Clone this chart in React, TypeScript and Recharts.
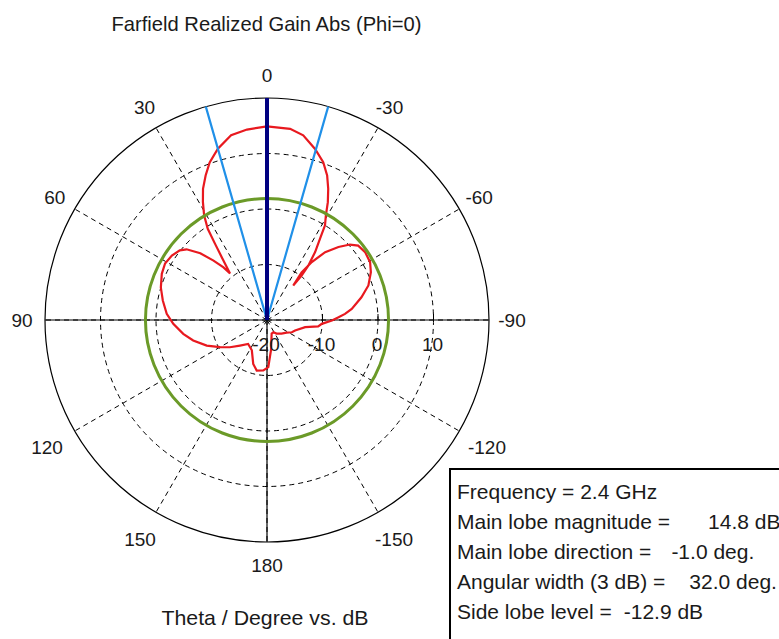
import { PolarAngleAxis, PolarGrid, PolarRadiusAxis, Radar, RadarChart } from "recharts";

const FONT = '"Liberation Sans", Arial, sans-serif';

// theta: degrees, 0 = up, positive = counter-clockwise (CST convention)
const PATTERN_THETA = [
  0, 6, 11, 16, 20, 23, 26, 28.5, 31, 33, 34.3, 35.8, 38.5,
  39.6, 42, 45, 48.7, 51.4, 55.9, 61, 66.3, 73, 79.4, 86.5, 92.3, 99.4, 105.5, 113, 120,
  126.3, 133.4, 141.8, 153.4, 162.6, 168.5, 175.8, -178.4, -172.5, -161.2, -152.7, -144.9,
  -133.2, -123, -116.3, -110.6, -100.7, -97.2, -94, -90.4, -87.8, -85.5, -82.5, -76.5,
  -71.2, -65.3, -60.7, -55.3, -50.8, -47.7, -44.4, -40.6, -37.7, -36, -37.3,
  -37.9, -37.2, -35.3, -33.1, -31.5, -29.4, -27.3, -25, -22.6, -19.6, -15.7, -11.1, -6.9,
];
// realized gain, dB
const PATTERN_GAIN = [
  14.9, 14.5, 13.9, 12.1, 10.2, 8.3, 6.3, 4.2, 2.0, -0.4, -3.4, -6.1, -9.3,
  -7.7, -5.6, -3.0, -0.7, 0.1, 0.7, 1.0, 0.7, 0.0, -0.9, -1.9, -3.1, -4.7, -6.2, -8.2, -10.2,
  -11.7, -13.3, -14.5, -13.9, -11.7, -10.7, -10.9, -11.5, -14.5, -17.4, -17.5, -17.0,
  -16.4, -15.8, -15.0, -14.6, -13.0, -10.7, -10.1, -8.3, -7.1, -5.9, -4.6, -2.5,
  -0.7, 0.6, 1.3, 1.5, 1.2, 0.2, -1.6, -3.9, -6.8, -9.4, -12.2,
  -9.8, -7.7, -5.0, -2.5, 0.0, 1.6, 3.9, 6.1, 8.2, 10.2, 12.0, 13.9, 14.7,
];

const MAIN_LOBE_THETA = 0;
const MAIN_LOBE_SPLIT_DB = 0.5; // thick marker stops here
const BEAM_EDGES = [16, -16]; // 3 dB angular width limits
const SIDE_LOBE_CIRCLE_DB = 1.9;

const ANGLE_TICKS = [0, 30, 60, 90, 120, 150, 180, -150, -120, -90, -60, -30];
const RADIUS_TICKS = [-20, -10, 0, 10];
const RADIUS_DOMAIN = [-20, 20];
const ANGLE_DOMAIN = [-180, 180];

const INFO_LABELS = [
  "Frequency = 2.4 GHz",
  "Main lobe magnitude =",
  "Main lobe direction =",
  "Angular width (3 dB) =",
  "Side lobe level =",
];
const INFO_VALUES = ["", "14.8 dB", "-1.0 deg.", "32.0 deg.", "-12.9 dB"];
const INFO_GAP = [0, 38, 20, 24, 12];

const W = 779;
const H = 639;
const CX = 267;
const CY = 320;
const OUTER_R = 222;

const patternRows = PATTERN_THETA.map((theta, i) => ({ theta, gain: PATTERN_GAIN[i] }));

const markerRows: Record<string, number>[] = [
  { theta: MAIN_LOBE_THETA, dirThick: RADIUS_DOMAIN[1] },
  { theta: MAIN_LOBE_THETA, dirThick: MAIN_LOBE_SPLIT_DB },
  { theta: MAIN_LOBE_THETA, dirThin: MAIN_LOBE_SPLIT_DB },
  { theta: MAIN_LOBE_THETA, dirThin: RADIUS_DOMAIN[0] },
  { theta: BEAM_EDGES[0], beamA: RADIUS_DOMAIN[1] },
  { theta: BEAM_EDGES[0], beamA: RADIUS_DOMAIN[0] },
  { theta: BEAM_EDGES[1], beamB: RADIUS_DOMAIN[1] },
  { theta: BEAM_EDGES[1], beamB: RADIUS_DOMAIN[0] },
];

const chartProps = {
  width: W,
  height: H,
  cx: CX,
  cy: CY,
  outerRadius: OUTER_R,
  startAngle: -90,
  endAngle: 270,
  margin: { top: 0, right: 0, bottom: 0, left: 0 },
};

function AngleTick(props: any) {
  const { x, y, payload } = props;
  const v = payload.value;
  if (v === -180) return <g />;
  // lower diagonal labels sit a bit further out in the original
  const extra = Math.abs(v) > 90 && Math.abs(v) < 180 ? 9 : 0;
  const rad = (payload.coordinate * Math.PI) / 180;
  return (
    <text
      x={x + extra * Math.cos(rad)}
      y={y - extra * Math.sin(rad)}
      textAnchor="middle"
      dominantBaseline="central"
      fontSize={19}
      fontFamily={FONT}
      fill="#1a1a1a"
    >
      {v}
    </text>
  );
}

function RadiusTick(props: any) {
  const { x, y, payload } = props;
  if (payload.value >= RADIUS_DOMAIN[1]) return <g />;
  return (
    <g>
      {payload.value > RADIUS_DOMAIN[0] && (
        <line x1={x} y1={y - 6} x2={x} y2={y} stroke="#000" strokeWidth={1} />
      )}
      <text x={x - 1} y={y + 24} textAnchor="middle" dominantBaseline="central" fontSize={19} fontFamily={FONT} fill="#1a1a1a">
        {payload.value}
      </text>
    </g>
  );
}

export default function App() {
  return (
    <div style={{ position: "absolute", left: 0, top: 0, width: W, height: H, background: "#fff", overflow: "hidden" }}>
      <div style={{ position: "absolute", left: 0, top: 0 }}>
        <RadarChart {...chartProps} data={patternRows}>
          <PolarGrid gridType="circle" stroke="#000" strokeWidth={1} strokeDasharray="5 4" />
          <PolarGrid gridType="circle" polarAngles={[0, 90, 180, 270]} polarRadius={[OUTER_R]} stroke="#000" strokeWidth={1.2} />
          <PolarAngleAxis
            dataKey="theta"
            type="number"
            domain={ANGLE_DOMAIN}
            ticks={ANGLE_TICKS}
            tickLine={false}
            tickSize={23}
            axisLine={false}
            tick={(p: any) => <AngleTick {...p} />}
          />
          <PolarRadiusAxis
            angle={0}
            type="number"
            domain={RADIUS_DOMAIN}
            ticks={RADIUS_TICKS}
            axisLine={false}
            tick={(p: any) => <RadiusTick {...p} />}
          />
          <Radar dataKey="gain" stroke="#e8191f" strokeWidth={2.2} fill="none" dot={false} isAnimationActive={false} />
        </RadarChart>
      </div>
      {/* overlay: side lobe level circle and main lobe / 3 dB markers */}
      <div style={{ position: "absolute", left: 0, top: 0 }}>
        <RadarChart {...chartProps} data={markerRows}>
          <PolarAngleAxis dataKey="theta" type="number" domain={ANGLE_DOMAIN} tick={false} tickLine={false} axisLine={false} />
          <PolarRadiusAxis angle={0} type="number" domain={RADIUS_DOMAIN} ticks={[SIDE_LOBE_CIRCLE_DB]} tick={false} axisLine={false} />
          <PolarGrid gridType="circle" radialLines={false} stroke="#6b9a28" strokeWidth={3} />
          <Radar dataKey="beamA" stroke="#2090e8" strokeWidth={2.2} fill="none" dot={false} isAnimationActive={false} />
          <Radar dataKey="beamB" stroke="#2090e8" strokeWidth={2.2} fill="none" dot={false} isAnimationActive={false} />
          <Radar dataKey="dirThin" stroke="#1212e0" strokeWidth={2} fill="none" dot={false} isAnimationActive={false} />
          <Radar dataKey="dirThick" stroke="#000080" strokeWidth={4} fill="none" dot={false} isAnimationActive={false} />
        </RadarChart>
      </div>
      <svg width={W} height={H} style={{ position: "absolute", left: 0, top: 0, pointerEvents: "none" }} fontFamily={FONT}>
        <text x={266.5} y={31} textAnchor="middle" fontSize={21} fill="#1a1a1a" textLength={310} lengthAdjust="spacingAndGlyphs">
          Farfield Realized Gain Abs (Phi=0)
        </text>
        <text x={265} y={625} textAnchor="middle" fontSize={21} fill="#1a1a1a" textLength={207} lengthAdjust="spacingAndGlyphs">
          Theta / Degree vs. dB
        </text>
        <rect x={450} y={469} width={360} height={200} fill="#fff" stroke="#000" strokeWidth={2} />
        {INFO_LABELS.map((label, i) => (
          <text key={label} x={457} y={498.5 + i * 30.2} fontSize={21} fill="#1a1a1a">
            {label}
            {INFO_VALUES[i] && <tspan dx={INFO_GAP[i]}>{INFO_VALUES[i]}</tspan>}
          </text>
        ))}
      </svg>
    </div>
  );
}
